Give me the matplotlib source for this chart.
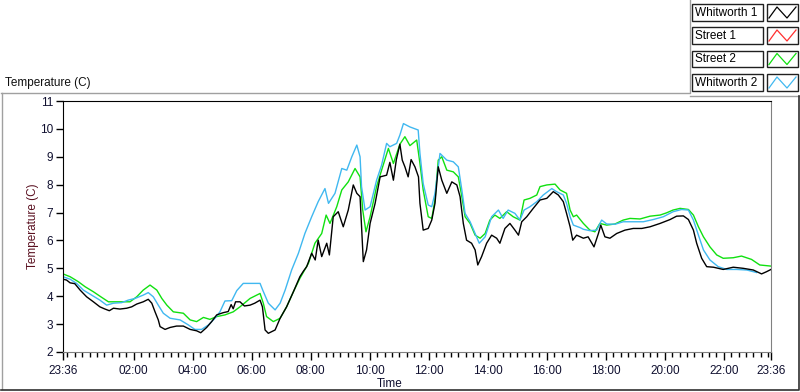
import numpy as np
import matplotlib
matplotlib.use("Agg")
import matplotlib.pyplot as plt
from matplotlib.patches import Rectangle

plt.rcParams['font.family'] = ['Liberation Sans', 'DejaVu Sans']

# time axis = hours since 23:36
w1_t = [0.00, 0.12, 0.24, 0.40, 0.58, 0.80, 1.03, 1.25, 1.40, 1.57, 1.71, 1.93, 2.16, 2.33, 2.50,
        2.72, 2.89, 3.01, 3.12, 3.23, 3.29, 3.46, 3.63, 3.85, 4.08, 4.31, 4.53, 4.67, 4.87, 5.04,
        5.21, 5.43, 5.60, 5.70, 5.77, 5.85, 6.00, 6.15, 6.34, 6.50, 6.68, 6.76, 6.85, 6.96, 7.19,
        7.36, 7.58, 7.81, 8.03, 8.15, 8.26, 8.43, 8.55, 8.65, 8.77, 8.94, 9.03, 9.16, 9.33, 9.50,
        9.67, 9.84, 9.96, 10.07, 10.12, 10.18, 10.29, 10.41, 10.58, 10.75, 10.97, 11.08, 11.20,
        11.30, 11.42, 11.50, 11.59, 11.70, 11.80, 11.93, 12.05, 12.10, 12.21, 12.38, 12.50, 12.61,
        12.72, 12.84, 13.01, 13.18, 13.35, 13.46, 13.57, 13.68, 13.85, 13.97, 14.06, 14.19, 14.36,
        14.53, 14.70, 14.81, 14.98, 15.15, 15.32, 15.44, 15.55, 15.72, 15.94, 16.17, 16.40, 16.62,
        16.79, 16.96, 17.07, 17.19, 17.28, 17.41, 17.64, 17.80, 18.00, 18.15, 18.23, 18.37, 18.54,
        18.77, 19.05, 19.33, 19.62, 19.90, 20.24, 20.58, 20.80, 21.03, 21.20, 21.37, 21.48, 21.65,
        21.82, 22.05, 22.38, 22.72, 23.06, 23.40, 23.68, 23.85, 24.00]
w1_v = [4.61, 4.58, 4.48, 4.45, 4.22, 3.98, 3.80, 3.62, 3.55, 3.48, 3.57, 3.54, 3.57, 3.62, 3.72,
        3.80, 3.89, 3.75, 3.44, 3.15, 2.91, 2.81, 2.88, 2.93, 2.93, 2.81, 2.76, 2.69, 2.88, 3.09,
        3.33, 3.41, 3.45, 3.70, 3.55, 3.80, 3.80, 3.65, 3.68, 3.75, 3.86, 3.62, 2.79, 2.67, 2.79,
        3.21, 3.62, 4.16, 4.70, 4.90, 5.06, 5.54, 5.30, 6.01, 5.42, 5.90, 5.48, 6.85, 7.03, 6.49,
        7.09, 7.99, 7.69, 7.57, 6.49, 5.24, 5.66, 6.61, 7.33, 8.28, 8.34, 8.80, 8.16,
        8.90, 9.45, 8.88, 8.64, 8.28, 8.90, 8.64, 8.28, 7.33, 6.37, 6.43, 6.73, 7.33,
        8.64, 8.16, 7.69, 8.10, 7.99, 7.57, 6.61, 6.01, 5.90, 5.66, 5.12, 5.42, 5.90,
        6.19, 6.08, 5.90, 6.43, 6.61, 6.37, 6.19, 6.67, 6.85, 7.15, 7.45, 7.51, 7.75,
        7.63, 7.39, 6.97, 6.49, 6.01, 6.19, 6.08, 6.13, 5.77, 6.25, 6.55, 6.13, 6.08,
        6.25, 6.37, 6.43, 6.43, 6.49, 6.61, 6.75, 6.87, 6.88, 6.75, 6.37, 5.90, 5.36,
        5.06, 5.04, 4.96, 5.04, 5.00, 4.94, 4.80, 4.88, 4.96]

s1_t = []
s1_v = []

s2_t = [0.00, 0.24, 0.52, 0.75, 1.03, 1.31, 1.54, 1.93, 2.27, 2.50, 2.72, 2.95, 3.18, 3.35, 3.52,
        3.74, 4.08, 4.31, 4.53, 4.76, 4.98, 5.21, 5.49, 5.77, 6.00, 6.34, 6.68, 6.79, 6.90, 7.13,
        7.36, 7.58, 7.81, 8.03, 8.32, 8.54, 8.77, 8.92, 9.05, 9.28, 9.45, 9.67, 9.90, 10.07, 10.16,
        10.27, 10.41, 10.63, 10.80, 11.03, 11.20, 11.42, 11.59, 11.76, 11.99, 12.10, 12.21, 12.38,
        12.50, 12.61, 12.72, 12.84, 13.01, 13.23, 13.40, 13.52, 13.63, 13.80, 13.97, 14.14, 14.31,
        14.47, 14.64, 14.81, 15.04, 15.26, 15.49, 15.63, 15.83, 16.06, 16.17, 16.40, 16.68, 16.85,
        17.07, 17.19, 17.30, 17.41, 17.64, 17.86, 18.03, 18.20, 18.43, 18.71, 18.99, 19.22, 19.56,
        19.90, 20.24, 20.46, 20.68, 20.92, 21.20, 21.37, 21.54, 21.71, 21.93, 22.16, 22.38, 22.72,
        23.00, 23.34, 23.62, 24.00]
s2_v = [4.80, 4.70, 4.52, 4.34, 4.16, 3.96, 3.80, 3.80, 3.80, 3.98, 4.22, 4.40, 4.22, 3.92, 3.68,
        3.44, 3.39, 3.15, 3.09, 3.24, 3.17, 3.27, 3.33, 3.44, 3.62, 3.92, 4.10, 3.75, 3.27, 3.09,
        3.21, 3.62, 4.16, 4.64, 5.18, 5.90, 6.25, 6.91, 6.61, 7.21, 7.81, 8.10, 8.58, 8.28, 7.09,
        6.31, 6.85, 7.93, 8.52, 9.30, 8.76, 9.45, 9.72, 9.40, 9.60, 8.76, 7.81, 6.85,
        6.79, 7.45, 8.88, 9.00, 8.52, 8.46, 8.28, 7.57, 6.85, 6.61, 6.19, 6.08, 6.25,
        6.73, 6.91, 6.79, 7.03, 6.85, 6.73, 7.45, 7.51, 7.63, 7.93, 7.99, 8.02, 7.81,
        7.69, 7.09, 6.85, 6.91, 6.61, 6.37, 6.31, 6.61, 6.55, 6.59, 6.73, 6.79, 6.77,
        6.87, 6.91, 6.99, 7.09, 7.15, 7.11, 6.91, 6.49, 6.13, 5.77, 5.48, 5.36, 5.38,
        5.44, 5.32, 5.12, 5.08]

w2_t = [0.00, 0.24, 0.46, 0.69, 0.97, 1.25, 1.48, 1.71, 1.99, 2.21, 2.44, 2.72, 2.89, 3.06, 3.23,
        3.40, 3.63, 3.97, 4.25, 4.47, 4.70, 4.93, 5.15, 5.32, 5.49, 5.72, 5.89, 6.11, 6.40, 6.68,
        6.77, 6.96, 7.19, 7.36, 7.53, 7.75, 7.98, 8.20, 8.43, 8.65, 8.88, 9.00, 9.22, 9.45, 9.62,
        9.79, 9.96, 10.07, 10.12, 10.24, 10.41, 10.63, 10.80, 10.97, 11.08, 11.31, 11.42, 11.54,
        11.76, 12.04, 12.10, 12.21, 12.38, 12.50, 12.61, 12.78, 13.01, 13.23, 13.40, 13.52, 13.63,
        13.80, 13.97, 14.11, 14.31, 14.53, 14.76, 14.92, 15.09, 15.32, 15.49, 15.63, 15.83, 16.06,
        16.28, 16.57, 16.73, 16.96, 17.07, 17.19, 17.30, 17.53, 17.64, 17.86, 18.09, 18.26, 18.43,
        18.71, 18.99, 19.33, 19.67, 20.01, 20.35, 20.68, 20.97, 21.20, 21.37, 21.54, 21.71, 21.93,
        22.21, 22.50, 22.84, 23.18, 23.51]
w2_v = [4.70, 4.61, 4.46, 4.22, 4.04, 3.86, 3.68, 3.75, 3.77, 3.86, 3.92, 4.04, 4.13, 3.98, 3.68,
        3.39, 3.21, 3.15, 2.97, 2.81, 2.81, 2.97, 3.21, 3.44, 3.83, 3.84, 4.20, 4.46, 4.46, 4.46,
        4.22, 3.75, 3.51, 3.75, 4.22, 4.94, 5.54, 6.25, 6.85, 7.39, 7.86, 7.33, 7.69, 8.58, 8.52,
        9.00, 9.42, 9.00, 7.93, 7.09, 7.21, 8.16, 8.70, 9.48, 9.36, 9.48, 9.78, 10.19,
        10.07, 9.96, 9.12, 8.04, 7.27, 7.21, 7.69, 9.12, 8.88, 8.82, 8.64, 7.81, 6.97,
        6.67, 6.25, 5.90, 6.13, 6.85, 7.09, 6.79, 7.09, 6.97, 6.73, 7.09, 7.21, 7.39,
        7.63, 7.86, 7.75, 7.63, 7.33, 6.85, 6.55, 6.46, 6.40, 6.35, 6.37, 6.73, 6.59,
        6.58, 6.67, 6.67, 6.67, 6.75, 6.85, 7.03, 7.11, 7.09, 6.73, 6.19, 5.66, 5.30,
        5.06, 4.96, 4.96, 4.94, 4.85]

series_names = ["Whitworth 1", "Street 1", "Street 2", "Whitworth 2"]
series_colors = ["#000000", "#ff3030", "#10e010", "#40b8f0"]

tick_hours = [0, 2.4, 4.4, 6.4, 8.4, 10.4, 12.4, 14.4, 16.4, 18.4, 20.4, 22.4, 24]
tick_labels = ["23:36", "02:00", "04:00", "06:00", "08:00", "10:00", "12:00",
               "14:00", "16:00", "18:00", "20:00", "22:00", "23:36"]
y_ticks = [2, 3, 4, 5, 6, 7, 8, 9, 10, 11]

W, H = 800, 392
fig = plt.figure(figsize=(W / 100, H / 100), dpi=100)

# background frame / legend layer in pixel coordinates
bg = fig.add_axes([0, 0, 1, 1])
bg.set_xlim(0, W)
bg.set_ylim(H, 0)
bg.axis("off")
bg.plot([1, 690, 690], [92.5, 92.5, 0], color="#a0a0a0", lw=1)
bg.plot([690, 799], [96, 96], color="#a0a0a0", lw=1)
bg.plot([1.5, 1.5], [92.5, 389], color="#a0a0a0", lw=1)
bg.plot([1, 799, 799], [389.5, 389.5, 96], color="#303030", lw=1.2)
bg.text(5, 83, "Temperature (C)", fontsize=8.5, va="center", ha="left", color="#101010")

box_tops = [4, 27, 50.5, 74]
for name, col, top in zip(series_names, series_colors, box_tops):
    bg.add_patch(Rectangle((692, top), 71, 16.5, fill=False, ec="#202020", lw=1))
    bg.add_patch(Rectangle((766.5, top), 31, 16.5, fill=False, ec="#202020", lw=1))
    bg.text(695, top + 8.5, name, fontsize=8.5, va="center", ha="left", color="#000000")
    bg.plot([769, 777, 787, 796], [top + 14, top + 3, top + 14, top + 3], color=col, lw=0.9)

ax = fig.add_axes([63 / W, (H - 352) / H, 708 / W, 251 / H])
for t, v, col in zip([w1_t, s1_t, s2_t, w2_t], [w1_v, s1_v, s2_v, w2_v], series_colors):
    ax.plot(t, v, color=col, lw=1.0)
# draw black last so it sits on top
ax.lines[0].set_zorder(3)

ax.set_xlim(0, 24)
ax.set_ylim(2, 11)
ax.set_xticks(tick_hours)
ax.set_xticklabels(tick_labels)
ax.set_xticks(np.arange(0.15, 24, 0.25), minor=True)
ax.set_yticks(y_ticks)
ax.tick_params(axis="both", which="major", labelsize=8.5, colors="#000000",
               labelcolor="#101030", width=1)
ax.tick_params(axis="x", which="major", length=6, pad=3)
ax.tick_params(axis="x", which="minor", length=3.5, width=1, color="#000000")
ax.tick_params(axis="y", which="major", length=5, pad=2)
for side in ["top", "left"]:
    ax.spines[side].set_color("#000000")
for side in ["bottom", "right"]:
    ax.spines[side].set_color("#808080")

ax.set_ylabel("Temperature (C)", fontsize=8.5, color="#5a1020", labelpad=1)
fig.text(390 / W, 1 - 384 / H, "Time", fontsize=8.5, ha="center", va="center", color="#101030")

fig.savefig("out.png", dpi=100)
